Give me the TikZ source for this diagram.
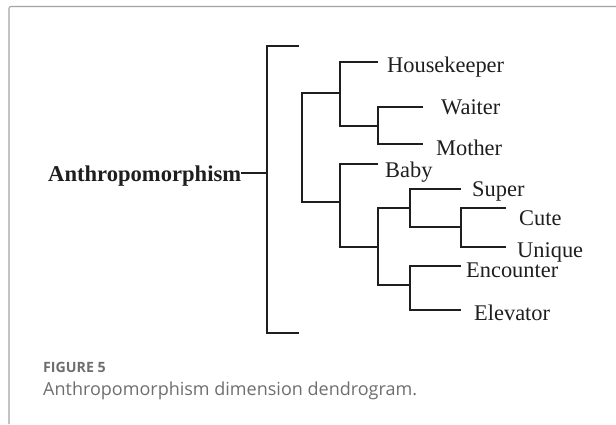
\documentclass[tikz,border=0pt]{standalone}
\usepackage{fontspec}
\setmainfont{Liberation Serif}
\newfontfamily\capfont{Open Sans}
\definecolor{framegray}{HTML}{A3A3A3}
\definecolor{capgray}{HTML}{6E6E6E}
\definecolor{treeink}{HTML}{1E1E1E}
\begin{document}
\begin{tikzpicture}[x=1pt,y=-1pt,
  branch/.style={line width=1.5pt, draw=treeink, line join=miter},
  leaf/.style={anchor=base west, inner sep=0pt, text=treeink, font=\fontsize{22.4}{26}\selectfont},
  rootlabel/.style={leaf, font=\fontsize{22.6}{26}\selectfont\bfseries},
  figtag/.style={anchor=base west, inner sep=0pt, text=capgray, font=\capfont\bfseries\fontsize{14.2}{17}\selectfont},
  figcap/.style={anchor=base west, inner sep=0pt, text=capgray, font=\capfont\fontsize{18}{22}\selectfont}]
\useasboundingbox (0,0) rectangle (616,424);

% panel frame (top and left edges)
\draw[framegray, line width=1.1pt, rounded corners=2pt] (9,424) -- (9,6.5) -- (616,6.5);

% labels
\node[rootlabel] (root) at (48,181) {Anthropomorphism};
\node[leaf] (housekeeper) at (387,72) {Housekeeper};
\node[leaf] (waiter) at (441,114) {Waiter};
\node[leaf] (mother) at (436,155) {Mother};
\node[leaf] (baby) at (385,177) {Baby};
\node[leaf] (super) at (472,196) {Super};
\node[leaf] (cute) at (519,225) {Cute};
\node[leaf] (unique) at (517,257) {Unique};
\node[leaf] (encounter) at (466,277) {Encounter};
\node[leaf] (elevator) at (474,320) {Elevator};

% outer bracket
\coordinate (mTopEnd) at (299,46);
\coordinate (mTop) at (267,46);
\coordinate (mStem) at (267,173);
\coordinate (mBot) at (267,333);
\coordinate (mBotEnd) at (299,333);
% second level
\coordinate (aTop) at (302,93);
\coordinate (aBot) at (302,202);
\coordinate (aTopEnd) at (340,93);
\coordinate (aBotEnd) at (340,202);
% housekeeper cluster
\coordinate (bTop) at (340,62);
\coordinate (bBot) at (340,126);
\coordinate (hkEnd) at (378,62);
\coordinate (bBotEnd) at (378,126);
% waiter / mother
\coordinate (cTop) at (378,107);
\coordinate (cBot) at (378,144);
\coordinate (waEnd) at (423,107);
\coordinate (moEnd) at (423,144);
% baby cluster
\coordinate (dTop) at (340,164);
\coordinate (dBot) at (340,247);
\coordinate (baEnd) at (378,164);
\coordinate (dBotEnd) at (378,247);
% lower cluster
\coordinate (eTop) at (378,208);
\coordinate (eBot) at (378,285);
\coordinate (eTopEnd) at (410,208);
\coordinate (eBotEnd) at (410,285);
% super cluster
\coordinate (fTop) at (410,189);
\coordinate (fBot) at (410,227);
\coordinate (suEnd) at (461,189);
\coordinate (fBotEnd) at (461,227);
% cute / unique
\coordinate (gTop) at (461,208);
\coordinate (gBot) at (461,247);
\coordinate (cuEnd) at (506,208);
\coordinate (unEnd) at (506,247);
% encounter / elevator
\coordinate (hTop) at (410,266);
\coordinate (hBot) at (410,310);
\coordinate (enEnd) at (461,266);
\coordinate (elEnd) at (461,310);

\draw[branch] (root.east |- mStem) -- (mStem);
\draw[branch] (mTopEnd) -- (mTop) -- (mBot) -- (mBotEnd);
\draw[branch] (aTopEnd) -- (aTop) -- (aBot) -- (aBotEnd);
\draw[branch] (hkEnd) -- (bTop) -- (bBot) -- (bBotEnd);
\draw[branch] (waEnd) -- (cTop) -- (cBot) -- (moEnd);
\draw[branch] (baEnd) -- (dTop) -- (dBot) -- (dBotEnd);
\draw[branch] (eTopEnd) -- (eTop) -- (eBot) -- (eBotEnd);
\draw[branch] (suEnd) -- (fTop) -- (fBot) -- (fBotEnd);
\draw[branch] (cuEnd) -- (gTop) -- (gBot) -- (unEnd);
\draw[branch] (enEnd) -- (hTop) -- (hBot) -- (elEnd);

% caption
\node[figtag] (figno) at (43,372) {FIGURE 5};
\node[figcap] (figtext) at (43,395) {Anthropomorphism dimension dendrogram.};
\end{tikzpicture}
\end{document}
